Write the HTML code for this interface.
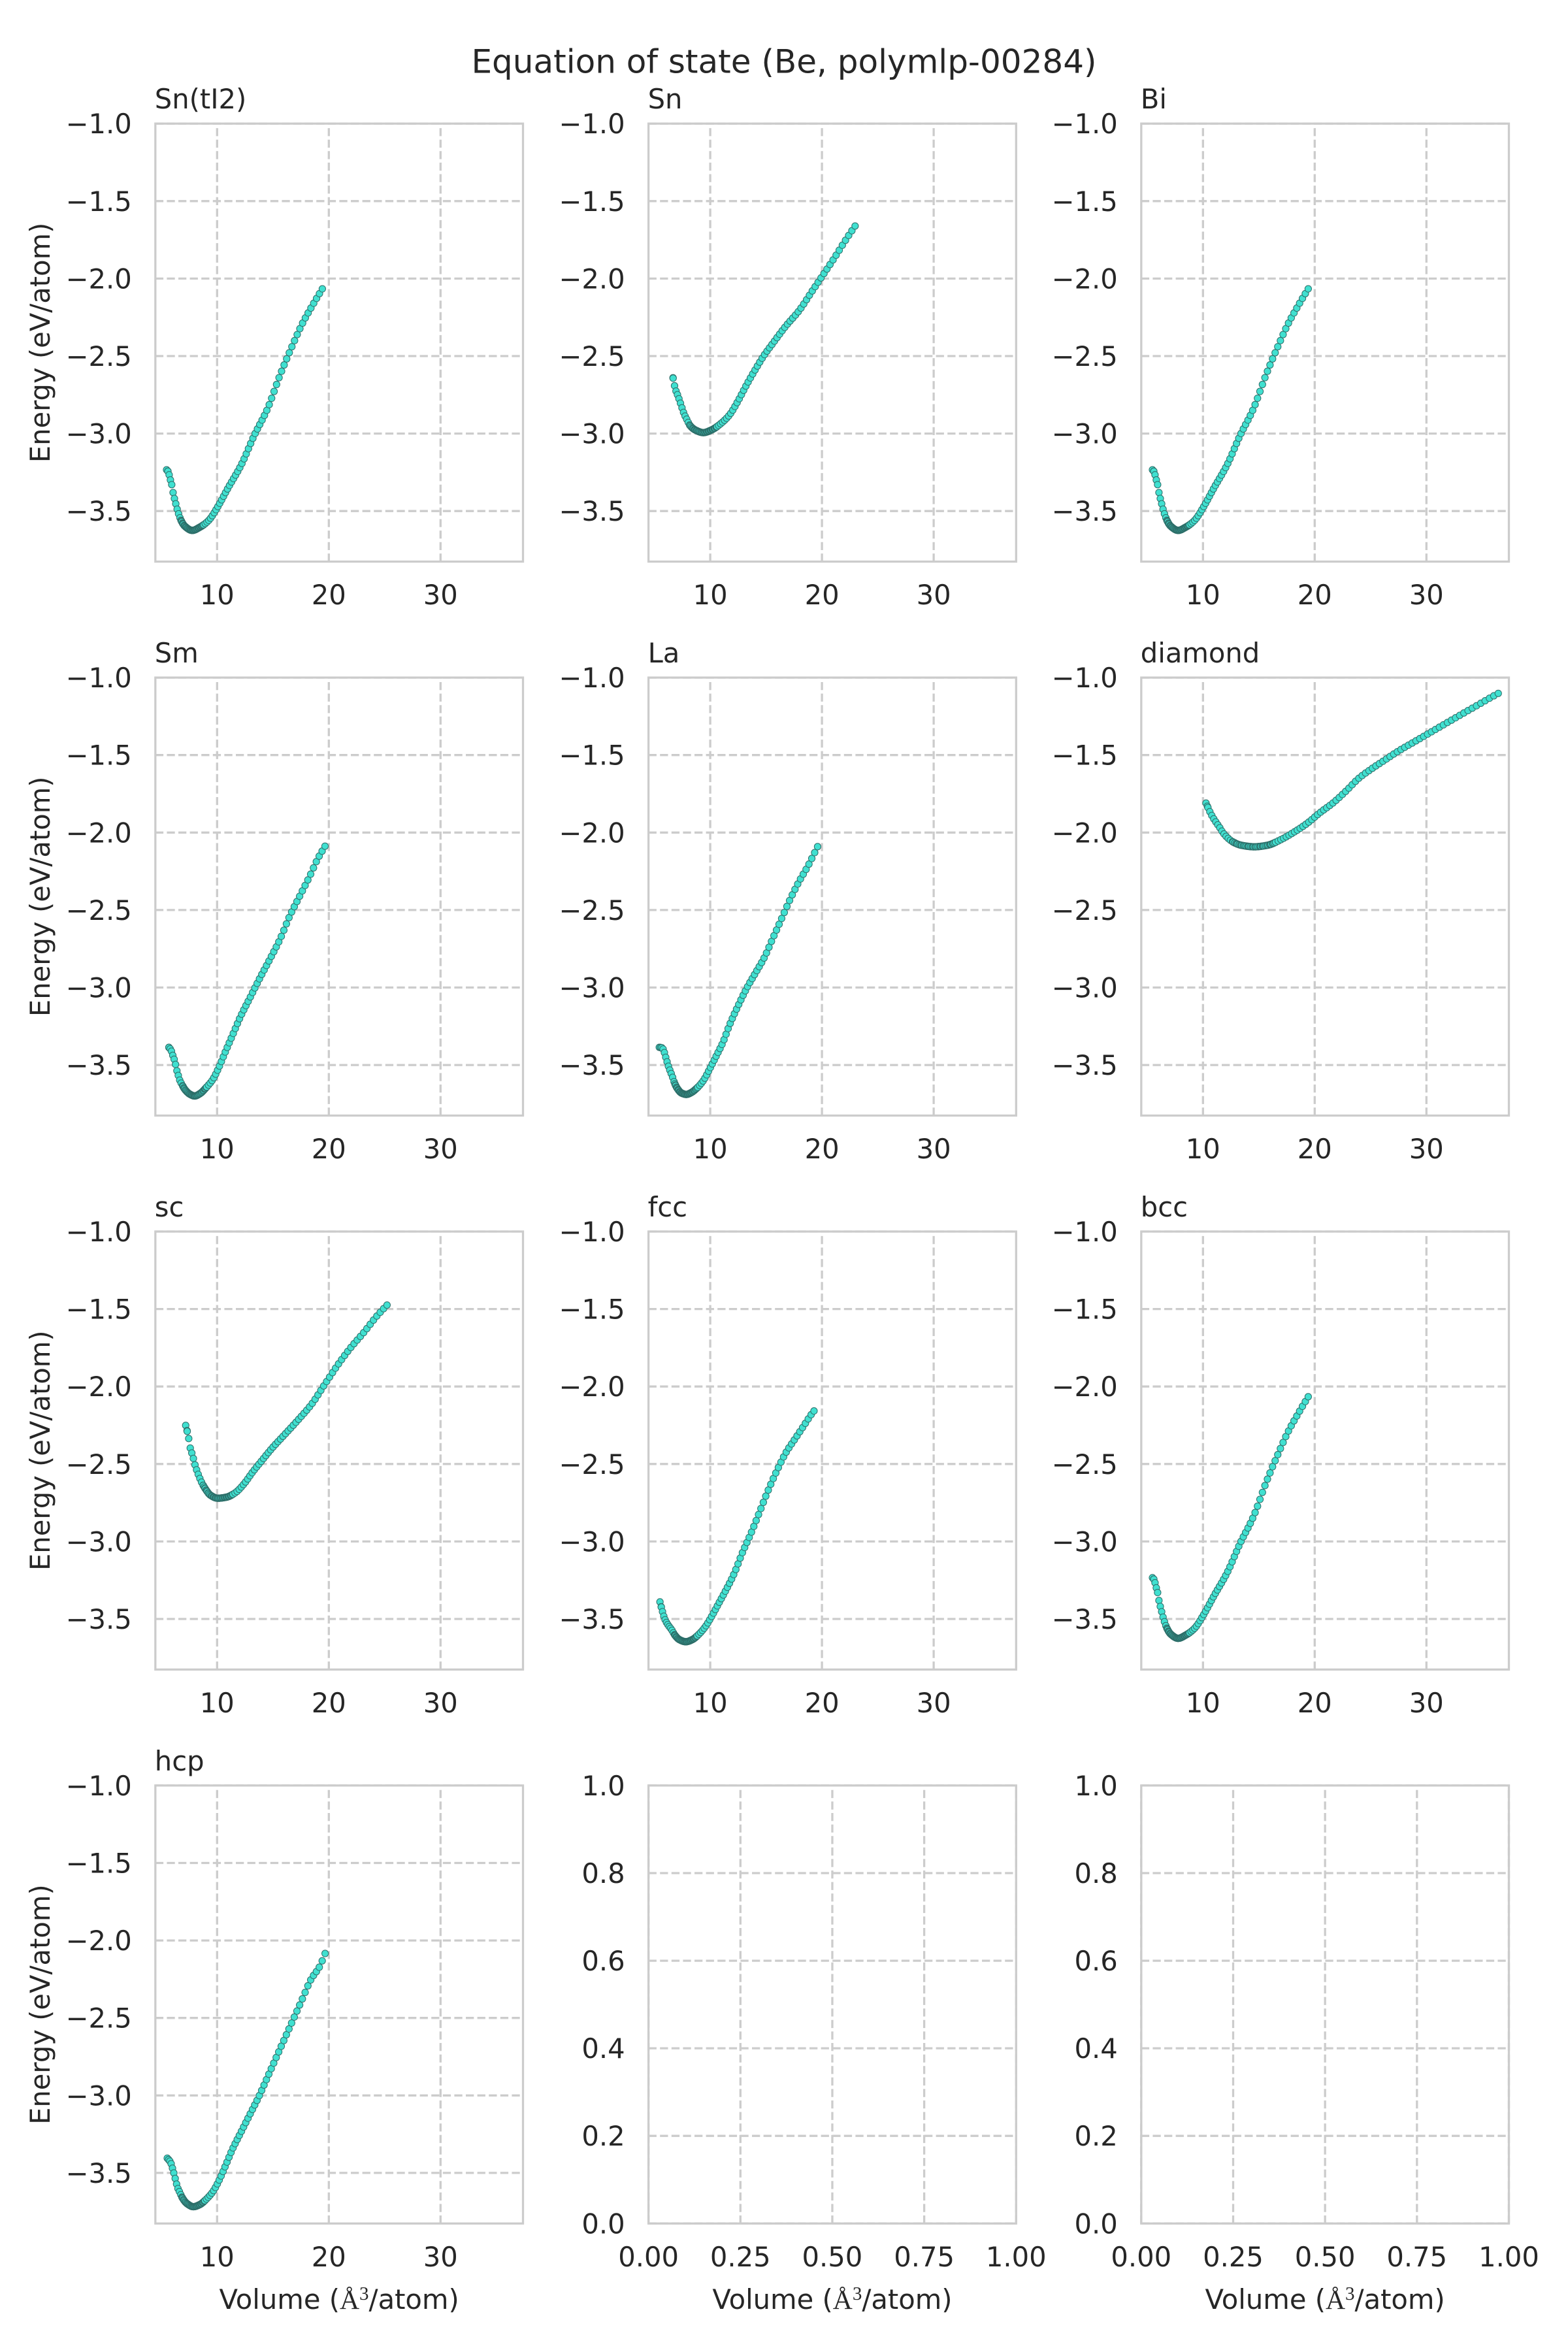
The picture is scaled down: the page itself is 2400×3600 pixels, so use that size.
<!DOCTYPE html>
<html><head><meta charset="utf-8">
<style>
html,body{margin:0;padding:0;background:#fff;}
svg{display:block;}
text{font-family:"DejaVu Sans","Liberation Sans",sans-serif;fill:#262626;}
.tk{font-size:41.67px;}
</style></head><body>
<svg width="2400" height="3600" viewBox="0 0 2400 3600" xmlns="http://www.w3.org/2000/svg">
<defs>
<g id="dg"><path fill="none" stroke="#cccccc" stroke-width="3.3" stroke-dasharray="12.3 5.3" d="M94.5 670.4V0M265.5 670.4V0M436.5 670.4V0M0 0H562.7M0 118.6H562.7M0 237.2H562.7M0 355.8H562.7M0 474.4H562.7M0 593H562.7"/></g>
<g id="eg"><path fill="none" stroke="#cccccc" stroke-width="3.3" stroke-dasharray="12.3 5.3" d="M0 670.4V0M140.7 670.4V0M281.35 670.4V0M422 670.4V0M562.7 670.4V0M0 0H562.7M0 134.1H562.7M0 268.2H562.7M0 402.2H562.7M0 536.3H562.7M0 670.4H562.7"/></g>
</defs>
<rect width="2400" height="3600" fill="#fff"/>
<text x="1200" y="111.5" text-anchor="middle" style="font-size:50px">Equation of state (Be, polymlp-00284)</text>

<!-- Row 1 -->
<g transform="translate(237.8,189.2)">
<use href="#dg"/>
<g id="p0" fill="#40e0d0" stroke="#2d6e69" stroke-width="1.0"></g>
<rect x="0" y="0" width="562.7" height="670.4" fill="none" stroke="#cccccc" stroke-width="3.3"/>
<text class="tk" x="-1" y="-23">Sn(tI2)</text>
<g class="tk" text-anchor="end"><text x="-36" y="15">−1.0</text><text x="-36" y="133.6">−1.5</text><text x="-36" y="252.2">−2.0</text><text x="-36" y="370.8">−2.5</text><text x="-36" y="489.4">−3.0</text><text x="-36" y="608">−3.5</text></g>
<g class="tk" text-anchor="middle"><text x="94.5" y="735.9">10</text><text x="265.5" y="735.9">20</text><text x="436.5" y="735.9">30</text></g>
<text class="tk" text-anchor="middle" transform="translate(-161.8,335.2) rotate(-90)">Energy (eV/atom)</text>
</g>

<g transform="translate(992.6,189.2)">
<use href="#dg"/>
<g id="p1" fill="#40e0d0" stroke="#2d6e69" stroke-width="1.0"></g>
<rect x="0" y="0" width="562.7" height="670.4" fill="none" stroke="#cccccc" stroke-width="3.3"/>
<text class="tk" x="-1" y="-23">Sn</text>
<g class="tk" text-anchor="end"><text x="-36" y="15">−1.0</text><text x="-36" y="133.6">−1.5</text><text x="-36" y="252.2">−2.0</text><text x="-36" y="370.8">−2.5</text><text x="-36" y="489.4">−3.0</text><text x="-36" y="608">−3.5</text></g>
<g class="tk" text-anchor="middle"><text x="94.5" y="735.9">10</text><text x="265.5" y="735.9">20</text><text x="436.5" y="735.9">30</text></g>
</g>

<g transform="translate(1746.8,189.2)">
<use href="#dg"/>
<g id="p2" fill="#40e0d0" stroke="#2d6e69" stroke-width="1.0"></g>
<rect x="0" y="0" width="562.7" height="670.4" fill="none" stroke="#cccccc" stroke-width="3.3"/>
<text class="tk" x="-1" y="-23">Bi</text>
<g class="tk" text-anchor="end"><text x="-36" y="15">−1.0</text><text x="-36" y="133.6">−1.5</text><text x="-36" y="252.2">−2.0</text><text x="-36" y="370.8">−2.5</text><text x="-36" y="489.4">−3.0</text><text x="-36" y="608">−3.5</text></g>
<g class="tk" text-anchor="middle"><text x="94.5" y="735.9">10</text><text x="265.5" y="735.9">20</text><text x="436.5" y="735.9">30</text></g>
</g>

<!-- Row 2 -->
<g transform="translate(237.8,1037.1)">
<use href="#dg"/>
<g id="p3" fill="#40e0d0" stroke="#2d6e69" stroke-width="1.0"></g>
<rect x="0" y="0" width="562.7" height="670.4" fill="none" stroke="#cccccc" stroke-width="3.3"/>
<text class="tk" x="-1" y="-23">Sm</text>
<g class="tk" text-anchor="end"><text x="-36" y="15">−1.0</text><text x="-36" y="133.6">−1.5</text><text x="-36" y="252.2">−2.0</text><text x="-36" y="370.8">−2.5</text><text x="-36" y="489.4">−3.0</text><text x="-36" y="608">−3.5</text></g>
<g class="tk" text-anchor="middle"><text x="94.5" y="735.9">10</text><text x="265.5" y="735.9">20</text><text x="436.5" y="735.9">30</text></g>
<text class="tk" text-anchor="middle" transform="translate(-161.8,335.2) rotate(-90)">Energy (eV/atom)</text>
</g>

<g transform="translate(992.6,1037.1)">
<use href="#dg"/>
<g id="p4" fill="#40e0d0" stroke="#2d6e69" stroke-width="1.0"></g>
<rect x="0" y="0" width="562.7" height="670.4" fill="none" stroke="#cccccc" stroke-width="3.3"/>
<text class="tk" x="-1" y="-23">La</text>
<g class="tk" text-anchor="end"><text x="-36" y="15">−1.0</text><text x="-36" y="133.6">−1.5</text><text x="-36" y="252.2">−2.0</text><text x="-36" y="370.8">−2.5</text><text x="-36" y="489.4">−3.0</text><text x="-36" y="608">−3.5</text></g>
<g class="tk" text-anchor="middle"><text x="94.5" y="735.9">10</text><text x="265.5" y="735.9">20</text><text x="436.5" y="735.9">30</text></g>
</g>

<g transform="translate(1746.8,1037.1)">
<use href="#dg"/>
<g id="p5" fill="#40e0d0" stroke="#2d6e69" stroke-width="1.0"></g>
<rect x="0" y="0" width="562.7" height="670.4" fill="none" stroke="#cccccc" stroke-width="3.3"/>
<text class="tk" x="-1" y="-23">diamond</text>
<g class="tk" text-anchor="end"><text x="-36" y="15">−1.0</text><text x="-36" y="133.6">−1.5</text><text x="-36" y="252.2">−2.0</text><text x="-36" y="370.8">−2.5</text><text x="-36" y="489.4">−3.0</text><text x="-36" y="608">−3.5</text></g>
<g class="tk" text-anchor="middle"><text x="94.5" y="735.9">10</text><text x="265.5" y="735.9">20</text><text x="436.5" y="735.9">30</text></g>
</g>

<!-- Row 3 -->
<g transform="translate(237.8,1885)">
<use href="#dg"/>
<g id="p6" fill="#40e0d0" stroke="#2d6e69" stroke-width="1.0"></g>
<rect x="0" y="0" width="562.7" height="670.4" fill="none" stroke="#cccccc" stroke-width="3.3"/>
<text class="tk" x="-1" y="-23">sc</text>
<g class="tk" text-anchor="end"><text x="-36" y="15">−1.0</text><text x="-36" y="133.6">−1.5</text><text x="-36" y="252.2">−2.0</text><text x="-36" y="370.8">−2.5</text><text x="-36" y="489.4">−3.0</text><text x="-36" y="608">−3.5</text></g>
<g class="tk" text-anchor="middle"><text x="94.5" y="735.9">10</text><text x="265.5" y="735.9">20</text><text x="436.5" y="735.9">30</text></g>
<text class="tk" text-anchor="middle" transform="translate(-161.8,335.2) rotate(-90)">Energy (eV/atom)</text>
</g>

<g transform="translate(992.6,1885)">
<use href="#dg"/>
<g id="p7" fill="#40e0d0" stroke="#2d6e69" stroke-width="1.0"></g>
<rect x="0" y="0" width="562.7" height="670.4" fill="none" stroke="#cccccc" stroke-width="3.3"/>
<text class="tk" x="-1" y="-23">fcc</text>
<g class="tk" text-anchor="end"><text x="-36" y="15">−1.0</text><text x="-36" y="133.6">−1.5</text><text x="-36" y="252.2">−2.0</text><text x="-36" y="370.8">−2.5</text><text x="-36" y="489.4">−3.0</text><text x="-36" y="608">−3.5</text></g>
<g class="tk" text-anchor="middle"><text x="94.5" y="735.9">10</text><text x="265.5" y="735.9">20</text><text x="436.5" y="735.9">30</text></g>
</g>

<g transform="translate(1746.8,1885)">
<use href="#dg"/>
<g id="p8" fill="#40e0d0" stroke="#2d6e69" stroke-width="1.0"></g>
<rect x="0" y="0" width="562.7" height="670.4" fill="none" stroke="#cccccc" stroke-width="3.3"/>
<text class="tk" x="-1" y="-23">bcc</text>
<g class="tk" text-anchor="end"><text x="-36" y="15">−1.0</text><text x="-36" y="133.6">−1.5</text><text x="-36" y="252.2">−2.0</text><text x="-36" y="370.8">−2.5</text><text x="-36" y="489.4">−3.0</text><text x="-36" y="608">−3.5</text></g>
<g class="tk" text-anchor="middle"><text x="94.5" y="735.9">10</text><text x="265.5" y="735.9">20</text><text x="436.5" y="735.9">30</text></g>
</g>

<!-- Row 4 -->
<g transform="translate(237.8,2732.9)">
<use href="#dg"/>
<g id="p9" fill="#40e0d0" stroke="#2d6e69" stroke-width="1.0"></g>
<rect x="0" y="0" width="562.7" height="670.4" fill="none" stroke="#cccccc" stroke-width="3.3"/>
<text class="tk" x="-1" y="-23">hcp</text>
<g class="tk" text-anchor="end"><text x="-36" y="15">−1.0</text><text x="-36" y="133.6">−1.5</text><text x="-36" y="252.2">−2.0</text><text x="-36" y="370.8">−2.5</text><text x="-36" y="489.4">−3.0</text><text x="-36" y="608">−3.5</text></g>
<g class="tk" text-anchor="middle"><text x="94.5" y="735.9">10</text><text x="265.5" y="735.9">20</text><text x="436.5" y="735.9">30</text></g>
<text class="tk" text-anchor="middle" transform="translate(-161.8,335.2) rotate(-90)">Energy (eV/atom)</text>
<text class="tk" text-anchor="middle" x="281.35" y="801.1">Volume (<tspan style="font-family:'Liberation Serif',serif">Å</tspan><tspan style="font-family:'Liberation Serif',serif;font-size:29px" dy="-14">3</tspan><tspan dy="14">/atom)</tspan></text>
</g>

<g transform="translate(992.6,2732.9)">
<use href="#eg"/>
<rect x="0" y="0" width="562.7" height="670.4" fill="none" stroke="#cccccc" stroke-width="3.3"/>
<g class="tk" text-anchor="end"><text x="-36" y="15">1.0</text><text x="-36" y="149.1">0.8</text><text x="-36" y="283.2">0.6</text><text x="-36" y="417.2">0.4</text><text x="-36" y="551.3">0.2</text><text x="-36" y="685.4">0.0</text></g>
<g class="tk" text-anchor="middle"><text x="0" y="735.9">0.00</text><text x="140.7" y="735.9">0.25</text><text x="281.35" y="735.9">0.50</text><text x="422" y="735.9">0.75</text><text x="562.7" y="735.9">1.00</text></g>
<text class="tk" text-anchor="middle" x="281.35" y="801.1">Volume (<tspan style="font-family:'Liberation Serif',serif">Å</tspan><tspan style="font-family:'Liberation Serif',serif;font-size:29px" dy="-14">3</tspan><tspan dy="14">/atom)</tspan></text>
</g>

<g transform="translate(1746.8,2732.9)">
<use href="#eg"/>
<rect x="0" y="0" width="562.7" height="670.4" fill="none" stroke="#cccccc" stroke-width="3.3"/>
<g class="tk" text-anchor="end"><text x="-36" y="15">1.0</text><text x="-36" y="149.1">0.8</text><text x="-36" y="283.2">0.6</text><text x="-36" y="417.2">0.4</text><text x="-36" y="551.3">0.2</text><text x="-36" y="685.4">0.0</text></g>
<g class="tk" text-anchor="middle"><text x="0" y="735.9">0.00</text><text x="140.7" y="735.9">0.25</text><text x="281.35" y="735.9">0.50</text><text x="422" y="735.9">0.75</text><text x="562.7" y="735.9">1.00</text></g>
<text class="tk" text-anchor="middle" x="281.35" y="801.1">Volume (<tspan style="font-family:'Liberation Serif',serif">Å</tspan><tspan style="font-family:'Liberation Serif',serif;font-size:29px" dy="-14">3</tspan><tspan dy="14">/atom)</tspan></text>
</g>
</svg>
<script>
(function(){
var NS="http://www.w3.org/2000/svg";
function pchip(xs,ys){
  var n=xs.length,h=[],d=[],m=[],i;
  for(i=0;i<n-1;i++){h[i]=xs[i+1]-xs[i];d[i]=(ys[i+1]-ys[i])/h[i];}
  m[0]=d[0];m[n-1]=d[n-2];
  for(i=1;i<n-1;i++){
    if(d[i-1]*d[i]<=0)m[i]=0;
    else{var w1=2*h[i]+h[i-1],w2=h[i]+2*h[i-1];m[i]=(w1+w2)/(w1/d[i-1]+w2/d[i]);}
  }
  return function(x){
    var k=0;while(k<n-2&&x>xs[k+1])k++;
    var t=(x-xs[k])/h[k],t2=t*t,t3=t2*t;
    return (2*t3-3*t2+1)*ys[k]+(t3-2*t2+t)*h[k]*m[k]+(-2*t3+3*t2)*ys[k+1]+(t3-t2)*h[k]*m[k+1];
  };
}
var D={
BI:[[5.48,-3.234],[5.63,-3.247],[5.77,-3.286],[5.96,-3.336],[6.08,-3.389],[6.26,-3.441],[6.41,-3.484],[6.57,-3.522],[6.80,-3.564],[7.10,-3.597],[7.78,-3.625],[8.46,-3.604],[9.24,-3.561],[10.02,-3.477],[10.99,-3.350],[12.16,-3.202],[13.33,-3.011],[14.50,-2.842],[15.67,-2.616],[16.65,-2.447],[17.62,-2.292],[18.60,-2.165],[19.42,-2.066]],
SN:[[6.55,-2.595],[6.71,-2.655],[6.86,-2.709],[7.13,-2.761],[7.33,-2.803],[7.49,-2.838],[7.66,-2.873],[7.91,-2.910],[8.21,-2.950],[8.69,-2.978],[9.38,-2.994],[10.16,-2.975],[10.94,-2.936],[11.72,-2.880],[12.50,-2.788],[13.27,-2.683],[14.05,-2.585],[14.83,-2.494],[15.61,-2.417],[16.78,-2.305],[17.95,-2.207],[19.12,-2.081],[20.10,-1.976],[21.07,-1.871],[22.24,-1.738],[23.26,-1.630]],
SM:[[5.57,-3.378],[5.86,-3.402],[6.06,-3.443],[6.24,-3.483],[6.35,-3.523],[6.51,-3.563],[6.64,-3.595],[6.87,-3.628],[7.14,-3.660],[7.58,-3.689],[7.99,-3.700],[8.48,-3.684],[9.04,-3.644],[9.60,-3.595],[10.16,-3.515],[10.72,-3.418],[11.39,-3.306],[12.06,-3.193],[12.95,-3.065],[13.85,-2.936],[14.74,-2.815],[15.64,-2.687],[16.53,-2.534],[17.43,-2.405],[18.32,-2.277],[18.99,-2.172],[19.66,-2.088]],
LA:[[5.44,-3.386],[5.71,-3.390],[5.87,-3.414],[6.02,-3.451],[6.16,-3.485],[6.32,-3.521],[6.49,-3.552],[6.65,-3.583],[6.80,-3.615],[7.04,-3.650],[7.43,-3.681],[7.86,-3.690],[8.30,-3.678],[8.79,-3.650],[9.38,-3.601],[9.96,-3.524],[10.55,-3.440],[11.13,-3.355],[11.72,-3.243],[12.50,-3.117],[13.27,-3.004],[14.05,-2.906],[14.83,-2.808],[15.61,-2.681],[16.39,-2.555],[17.17,-2.428],[17.95,-2.316],[18.73,-2.218],[19.61,-2.091]],
DIA:[[10.27,-1.810],[10.57,-1.859],[10.90,-1.904],[11.19,-1.936],[11.48,-1.966],[11.77,-1.999],[12.16,-2.031],[12.69,-2.061],[13.43,-2.082],[14.60,-2.092],[15.77,-2.082],[16.94,-2.047],[18.11,-1.999],[19.28,-1.943],[20.45,-1.873],[21.62,-1.810],[22.79,-1.733],[23.96,-1.649],[25.13,-1.587],[26.30,-1.531],[27.47,-1.475],[28.64,-1.426],[29.81,-1.377],[30.97,-1.328],[32.14,-1.279],[33.31,-1.230],[34.48,-1.182],[35.65,-1.133],[36.43,-1.102]],
SC:[[7.19,-2.251],[7.43,-2.323],[7.58,-2.392],[7.82,-2.448],[8.01,-2.503],[8.25,-2.555],[8.46,-2.594],[8.69,-2.629],[8.99,-2.665],[9.38,-2.700],[10.06,-2.721],[10.84,-2.714],[11.62,-2.686],[12.40,-2.629],[13.18,-2.552],[13.96,-2.482],[14.93,-2.397],[16.10,-2.306],[17.27,-2.214],[18.44,-2.116],[19.61,-1.989],[20.78,-1.863],[21.95,-1.750],[23.12,-1.652],[24.29,-1.546],[25.52,-1.451]],
FCC:[[5.50,-3.390],[5.67,-3.437],[5.83,-3.479],[6.02,-3.514],[6.26,-3.542],[6.55,-3.570],[6.84,-3.605],[7.23,-3.633],[7.82,-3.647],[8.40,-3.633],[8.99,-3.598],[9.57,-3.549],[10.16,-3.479],[10.74,-3.402],[11.33,-3.324],[12.11,-3.212],[12.88,-3.072],[13.66,-2.945],[14.44,-2.805],[15.22,-2.664],[16.00,-2.538],[16.78,-2.426],[17.56,-2.341],[18.34,-2.257],[19.12,-2.173],[19.55,-2.135]],
HCP:[[5.54,-3.405],[5.83,-3.431],[6.02,-3.473],[6.18,-3.515],[6.32,-3.557],[6.47,-3.596],[6.67,-3.627],[6.90,-3.662],[7.29,-3.697],[7.88,-3.718],[8.46,-3.704],[9.04,-3.669],[9.63,-3.620],[10.21,-3.543],[10.80,-3.445],[11.38,-3.346],[12.16,-3.234],[12.94,-3.122],[13.72,-3.010],[14.50,-2.884],[15.28,-2.757],[16.06,-2.631],[16.84,-2.505],[17.62,-2.379],[18.40,-2.252],[19.18,-2.168],[19.67,-2.084]]
};
var cfg=[["p0","BI"],["p1","SN"],["p2","BI"],["p3","SM"],["p4","LA"],["p5","DIA"],["p6","SC"],["p7","FCC"],["p8","BI"],["p9","HCP"]];
cfg.forEach(function(c){
  var d=D[c[1]],xs=[],ys=[],i;
  for(i=0;i<d.length;i++){xs.push(d[i][0]);ys.push(d[i][1]);}
  var f=pchip(xs,ys);
  var v0=xs[0],v1=xs[xs.length-1];
  var emin=Math.min.apply(null,ys),vm=xs[ys.indexOf(emin)];
  var vs=[];
  var a0=Math.cbrt(v0),a1=Math.cbrt(v1),n=Math.round((a1-a0)/0.012);
  for(i=0;i<=n;i++){var a=a0+(a1-a0)*i/n;vs.push(a*a*a);}
  for(i=0;i<30;i++){vs.push(vm*(0.87+0.26*i/29));}
  vs.push(v0+0.12);
  vs=vs.filter(function(v){return v>=v0&&v<=v1;}).sort(function(a,b){return a-b;});
  var g=document.getElementById(c[0]);
  vs.forEach(function(v){
    var e=f(v);
    var el=document.createElementNS(NS,"circle");
    el.setAttribute("cx",((v-4.474)*17.1).toFixed(2));
    el.setAttribute("cy",((-1-e)*237.2).toFixed(2));
    el.setAttribute("r","5.1");
    g.appendChild(el);
  });
});
})();
</script>
</body></html>
